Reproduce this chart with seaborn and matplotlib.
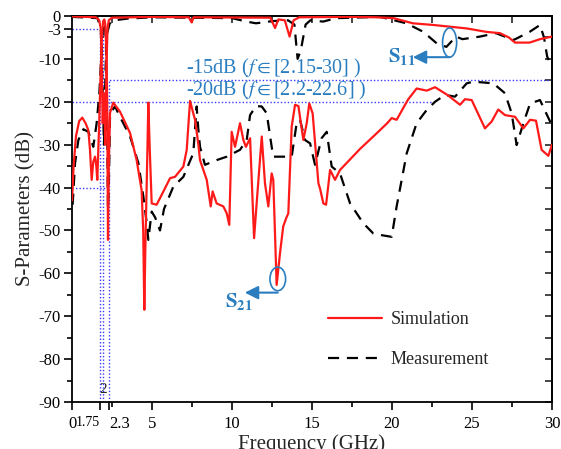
import numpy as np
import pandas as pd
import matplotlib
matplotlib.use("Agg")
import matplotlib.pyplot as plt
import seaborn as sns
from matplotlib.patches import Ellipse

# ---------------- data ----------------
s21_sim_f = [0.0, 0.1, 0.25, 0.45, 0.64, 0.85, 1.02, 1.12, 1.23, 1.33, 1.44, 1.52, 1.58, 1.7, 1.8, 1.88,
             1.95, 2.02, 2.08, 2.15, 2.2, 2.25, 2.3, 2.375, 2.58, 3.0, 3.63, 4.04, 4.35, 4.45, 4.52, 4.58,
             4.63, 4.72, 4.77, 4.85, 4.98, 5.29, 5.7, 6.13, 6.44, 6.96, 7.17, 7.3, 7.38, 7.58, 7.69, 7.9,
             8.0, 8.42, 8.67, 8.79, 9.04, 9.46, 9.67, 9.83, 9.98, 10.19, 10.5, 10.71, 10.87, 11.13, 11.38,
             11.54, 11.86, 12.06, 12.27, 12.48, 12.58, 12.79, 13.0, 13.2, 13.38, 13.52, 13.73, 13.94, 14.15,
             14.46, 14.67, 14.83, 15.04, 15.4, 15.5, 15.71, 15.88, 16.13, 16.44, 16.75, 18.0, 19.0, 19.7,
             19.98, 20.29, 21.0, 21.54, 22.17, 22.69, 23.5, 24.25, 24.56, 24.98, 25.81, 26.23, 26.64,
             27.06, 27.69, 28.21, 28.63, 29.0, 29.35, 29.77, 30.0]
s21_sim = [-43, -35, -28, -24.5, -23.7, -25, -26.6, -31, -38.2, -34, -32.8, -35, -38.2, -25, -12, -4,
           -1.2, -0.8, -2, -8, -20, -52.2, -35, -22.6, -20.2, -22.3, -27.3, -33.6, -40.6, -50, -68.5, -55,
           -46, -30, -20.2, -30, -43.7, -44, -41, -37.8, -37.5, -35.1, -31.2, -24, -19.8, -22.7, -24.2, -30,
           -33.6, -38.2, -44.4, -40.9, -43.7, -44.4, -46, -48.7, -27, -30.5, -25, -28.9, -30.5, -28.5, -51.8,
           -43.7, -28.1, -39, -44.4, -36.7, -38.2, -62.7, -55.3, -49.1, -47.2, -46, -25.8, -20.7, -21,
           -28.9, -25, -20.4, -22.7, -39, -40.2, -43.7, -44, -35.9, -38.2, -35.9, -31, -27.5, -25,
           -23.8, -24.2, -19.5, -16.9, -17.4, -16.6, -18.5, -20.7, -19.4, -19.6, -26.2, -24.6, -21.8,
           -23.1, -23.5, -26.2, -24.2, -24.4, -31.2, -32.6, -30]

s11_sim_f = [0.0, 1.5, 1.7, 1.8, 1.85, 1.92, 2.0, 2.08, 2.15, 2.22, 2.3, 2.5, 5.0, 7.3, 7.48, 7.6, 12.4,
             12.69, 12.9, 13.3, 13.6, 13.85, 14.2, 17.5, 19.0, 20.1, 21.3, 22.6, 24.67, 25.9, 26.75, 27.3,
             27.69, 28.6, 29.25, 30.0]
s11_sim = [-0.1, -0.3, -1, -3, -10, -25, -18, -30, -12, -3, -1, -0.4, -0.2, -0.3, -1.5, -0.3, -0.4,
           -2.8, -0.8, -1, -4.8, -1, -0.3, -0.2, -0.3, -0.5, -1.7, -2.1, -2.9, -3.7, -4.0, -5,
           -6.2, -6.2, -5.4, -4.8]

s11_meas_f = [0.0, 1.6, 1.8, 1.9, 2.0, 2.1, 2.2, 2.35, 2.6, 3.5, 5.0, 10.0, 10.9, 11.5, 12.5, 13.5, 13.9,
              14.1, 14.3, 14.6, 14.9, 15.7, 16.5, 19.25, 20.9, 21.96, 22.8, 23.4, 24.0, 24.4, 25.5, 26.5,
              27.6, 28.6, 29.25, 29.5, 29.7, 30.0]
s11_meas = [-0.2, -0.5, -3, -15, -30, -12, -4, -1.8, -1.0, -0.6, -0.3, -0.5, -1.3, -1.7, -1.2, -1.0, -2,
            -10, -8, -2, -1, -1.3, -0.5, -0.2, -1.7, -3.7, -6.4, -7.2, -4.8, -5.4, -4.8, -4.0,
            -5.6, -3.7, -2.1, -5, -9.5, -11.8]

s21_meas_f = [0.04, 0.19, 0.4, 0.71, 1.02, 1.33, 1.54, 1.71, 1.85, 1.95, 2.05, 2.12, 2.17, 2.25, 2.3,
              2.38, 2.69, 3.0, 3.63, 4.15, 4.46, 4.67, 4.77, 4.98, 5.2, 5.5, 5.75, 6.33, 6.96, 7.58, 7.79,
              7.9, 8.0, 8.31, 9.04, 9.67, 10.5, 10.92, 11.13, 11.5, 11.86, 12.17, 12.48, 12.58, 13.2, 13.73,
              14.04, 14.25, 14.56, 14.88, 15.19, 15.6, 15.92, 16.23, 16.75, 17.38, 18.2, 18.83, 19.35,
              19.98, 20.29, 20.92, 21.54, 22.17, 22.69, 23.31, 23.94, 24.67, 25.08, 26.33, 27.06, 27.48,
              27.79, 28.21, 28.63, 29.25, 29.88, 30.0]
s21_meas = [-44, -34.3, -28.9, -26.4, -27, -30.5, -25, -18, -8, -2, -1.5, -6, -18, -45, -40,
            -22.7, -21.1, -23.5, -28.1, -34.3, -42.1, -48.3, -52.2, -45.6, -47, -50, -45, -39.8, -37.5, -32, -21.1,
            -26.6, -30.5, -34.7, -33.6, -32.8, -31.2, -28.9, -23.1, -21, -21.1, -22.7, -30.5, -32.8, -32.8, -32.8,
            -25, -24.2, -28.9, -29.7, -34.7, -28.5, -27, -35.1, -36.7, -43.7, -48.3, -50.7, -51.1,
            -51.5, -44.4, -32, -25, -21.9, -20, -18.4, -18.8, -15.7, -15.3, -15.7, -18, -22.7,
            -30.1, -25, -20.4, -19.6, -24.6, -26]

xtick_vals = [0, 1.75, 2.3, 5, 10, 15, 20, 25, 30]
xtick_labels = ["0", "1.75", "2.3", "5", "10", "15", "20", "25", "30"]
ytick_vals = [0, -3, -10, -20, -30, -40, -50, -60, -70, -80, -90]
ytick_labels = ["0", "-3", "-10", "-20", "-30", "-40", "-50", "-60", "-70", "-80", "-90"]

# ---------------- style ----------------
sns.set_theme(style="ticks")
plt.rcParams["font.family"] = ["Liberation Serif", "DejaVu Serif"]
plt.rcParams["mathtext.fontset"] = "stix"

fig = plt.figure(figsize=(5.61, 4.49), dpi=100)
ax = fig.add_axes([72 / 561, 1 - 402 / 449, 480 / 561, 386 / 449])

RED = "#ff1a1a"
BLK = "black"
BLUE_TXT = "#2a7ec0"
BLUE_LN = "#3a3aff"

# dotted guide lines
dot = dict(color=BLUE_LN, lw=1.0, ls=(0, (1, 1.5)), zorder=1)
ax.plot([0, 1.96], [-3, -3], **dot)
ax.plot([2.1, 30], [-15, -15], **dot)
ax.plot([0, 22.6], [-20, -20], **dot)
ax.plot([0, 2.3], [-40, -40], **dot)
ax.plot([1.75, 1.75], [-90, -3], **dot)
ax.plot([1.96, 1.96], [-90, -3], **dot)
ax.plot([2.3, 2.3], [-90, -15], **dot)

# curves
sns.lineplot(x=s11_sim_f, y=s11_sim, ax=ax, color=RED, lw=1.6, estimator=None, sort=False, zorder=3)
sns.lineplot(x=s11_meas_f, y=s11_meas, ax=ax, color=BLK, lw=1.6, estimator=None, sort=False,
             linestyle=(0, (5, 3.5)), zorder=2)
sns.lineplot(x=s21_sim_f, y=s21_sim, ax=ax, color=RED, lw=1.6, estimator=None, sort=False, zorder=3,
             label="Simulation")
sns.lineplot(x=s21_meas_f, y=s21_meas, ax=ax, color=BLK, lw=1.6, estimator=None, sort=False,
             linestyle=(0, (5, 3.5)), zorder=2, label="Measurement")

ax.set_xlim(0, 30)
ax.set_ylim(-90, 0)

ax.set_xticks(xtick_vals)
ax.set_xticklabels(xtick_labels, fontsize=12)
ax.set_xticks([2.5, 7.5, 12.5, 17.5, 22.5, 27.5], minor=True)
for lbl in ax.get_xticklabels():
    if lbl.get_text() == "1.75":
        lbl.set_ha("right")
        lbl.set_fontsize(10)
    elif lbl.get_text() == "2.3":
        lbl.set_ha("left")
ax.set_yticks(ytick_vals)
ax.set_yticklabels(ytick_labels, fontsize=12)
ax.set_yticks(list(range(-85, 0, 10)), minor=True)
ax.tick_params(axis="both", which="major", direction="out", length=6, width=1.2, colors="black", pad=2)
ax.tick_params(axis="x", which="major", pad=4)
ax.tick_params(axis="both", which="minor", direction="out", length=3.5, width=1.2, colors="black")
for s in ax.spines.values():
    s.set_linewidth(1.3)
    s.set_color("black")
    s.set_visible(True)

top = ax.secondary_xaxis("top")
top.set_xticks([5, 10, 15, 20, 25, 30])
top.set_xticks([2.5, 7.5, 12.5, 17.5, 22.5, 27.5], minor=True)
top.tick_params(which="both", direction="in", length=5, width=1.2, labeltop=False)
top.set_xticklabels([])
right = ax.secondary_yaxis("right")
right.set_yticks(list(range(-90, 1, 10)))
right.set_yticks(list(range(-85, 0, 10)), minor=True)
right.tick_params(which="both", direction="in", length=5, width=1.2, labelright=False)
right.set_yticklabels([])

ax.text(1.96, -87, "2", fontsize=11, ha="center", va="center")

ax.set_xlabel("Frequency (GHz)", fontsize=15, labelpad=2)
ax.set_ylabel("S-Parameters (dB)", fontsize=15, labelpad=2)

# annotations
ax.text(7.1, -12.3, r"-15dB ($f$$\in$[2.15-30] )", color=BLUE_TXT, fontsize=14.5, va="center", ha="left")
ax.text(7.1, -17.3, r"-20dB ($f$$\in$[2.2-22.6] )", color=BLUE_TXT, fontsize=14.5, va="center", ha="left")

ax.add_patch(Ellipse((23.6, -6.2), 0.88, 6.8, fill=False, ec=BLUE_TXT, lw=1.2, zorder=5))
ax.annotate("", xy=(21.3, -9.6), xytext=(23.6, -9.6),
            arrowprops=dict(arrowstyle="-|>", color=BLUE_TXT, lw=1.5, mutation_scale=20, shrinkA=0, shrinkB=0))
ax.text(20.6, -9.5, r"$\mathbf{S_{11}}$", color=BLUE_TXT, fontsize=15, ha="center", va="center")

ax.add_patch(Ellipse((12.86, -61.3), 0.98, 5.5, fill=False, ec=BLUE_TXT, lw=1.2, zorder=5))
ax.annotate("", xy=(10.8, -64.5), xytext=(12.86, -64.5),
            arrowprops=dict(arrowstyle="-|>", color=BLUE_TXT, lw=1.5, mutation_scale=20, shrinkA=0, shrinkB=0))
ax.text(10.4, -66.5, r"$\mathbf{S_{21}}$", color=BLUE_TXT, fontsize=15, ha="center", va="center")

leg = ax.legend(loc="upper left", bbox_to_anchor=(312 / 561, 1 - 295 / 449), bbox_transform=fig.transFigure,
                frameon=False, fontsize=13, handlelength=2.95, labelspacing=1.25, handletextpad=0.5)

fig.savefig("out.png", dpi=100)
